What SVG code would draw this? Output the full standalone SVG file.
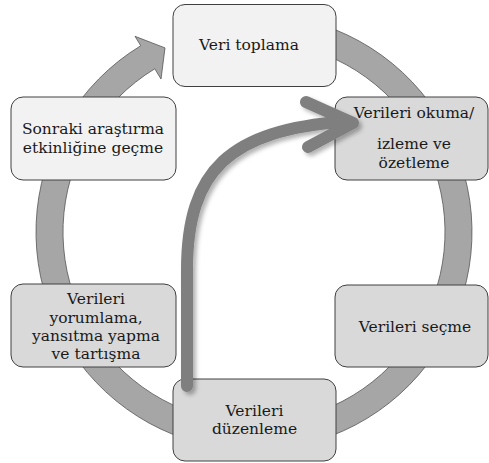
<svg xmlns="http://www.w3.org/2000/svg" width="489" height="463" viewBox="0 0 489 463">
  <style>
    .box { stroke: #404040; stroke-width: 1; }
    .light { fill: #f2f2f2; }
    .dark { fill: #d9d9d9; }
    .lbl { font-family: "DejaVu Serif", "Liberation Serif", serif; font-size: 15.5px; fill: #1a1a1a; text-anchor: middle; }
    .ring { fill: #a6a6a6; stroke: #555555; stroke-width: 0.8; stroke-linejoin: miter; }
    .jump { fill: none; stroke: #7f7f7f; stroke-width: 12; stroke-linecap: round; stroke-linejoin: round; }
  </style>
  <defs>
    <filter id="soft" x="-20%" y="-20%" width="140%" height="140%">
      <feDropShadow dx="3" dy="3" stdDeviation="2" flood-color="#000000" flood-opacity="0.3"/>
    </filter>
  </defs>
  <rect width="489" height="463" fill="#ffffff"/>

  <!-- circular cycle arrow behind the steps -->
  <g id="connectors">
    <path class="ring" d="M 216.14 17.31 A 218 218 0 1 1 140.75 45.72 L 135.03 36.32 L 165.0 47.9 L 161.01 79.04 L 154.78 68.79 A 191 191 0 1 0 220.83 43.90 Z"/>
  </g>

  <g id="node-veri-toplama">
    <rect class="box light" x="173" y="4.5" width="163" height="82" rx="12"/>
    <text class="lbl" x="249" y="50">Veri toplama</text>
  </g>

  <g id="node-okuma">
    <rect class="box dark" x="335" y="97" width="153" height="83" rx="12"/>
    <text class="lbl" x="414" y="118">Verileri okuma/</text>
    <text class="lbl" x="414" y="149">izleme ve</text>
    <text class="lbl" x="414" y="168">özetleme</text>
  </g>

  <g id="node-secme">
    <rect class="box dark" x="335" y="285" width="153" height="82" rx="12"/>
    <text class="lbl" x="415" y="332">Verileri seçme</text>
  </g>

  <g id="node-duzenleme">
    <rect class="box dark" x="173" y="379" width="163" height="82" rx="12"/>
    <text class="lbl" x="254.5" y="415.5">Verileri</text>
    <text class="lbl" x="254.5" y="433.5">düzenleme</text>
  </g>

  <g id="node-yorumlama">
    <rect class="box dark" x="11" y="284" width="165" height="83" rx="12"/>
    <text class="lbl" x="96" y="304">Verileri</text>
    <text class="lbl" x="96" y="322.5">yorumlama,</text>
    <text class="lbl" x="96" y="341">yansıtma yapma</text>
    <text class="lbl" x="96" y="359">ve tartışma</text>
  </g>

  <g id="node-sonraki">
    <rect class="box light" x="11" y="97" width="165" height="83" rx="12"/>
    <text class="lbl" x="93" y="134">Sonraki araştırma</text>
    <text class="lbl" x="93" y="153">etkinliğine geçme</text>
  </g>

  <!-- curved jump arrow from organising straight to reading -->
  <g id="jump-arrow" filter="url(#soft)">
    <path class="jump" d="M 187 386 V 270 C 187 170 230 130 345 121.5 L 352 123"/>
    <polyline class="jump" points="306,102 353,123 308,147"/>
  </g>
</svg>
